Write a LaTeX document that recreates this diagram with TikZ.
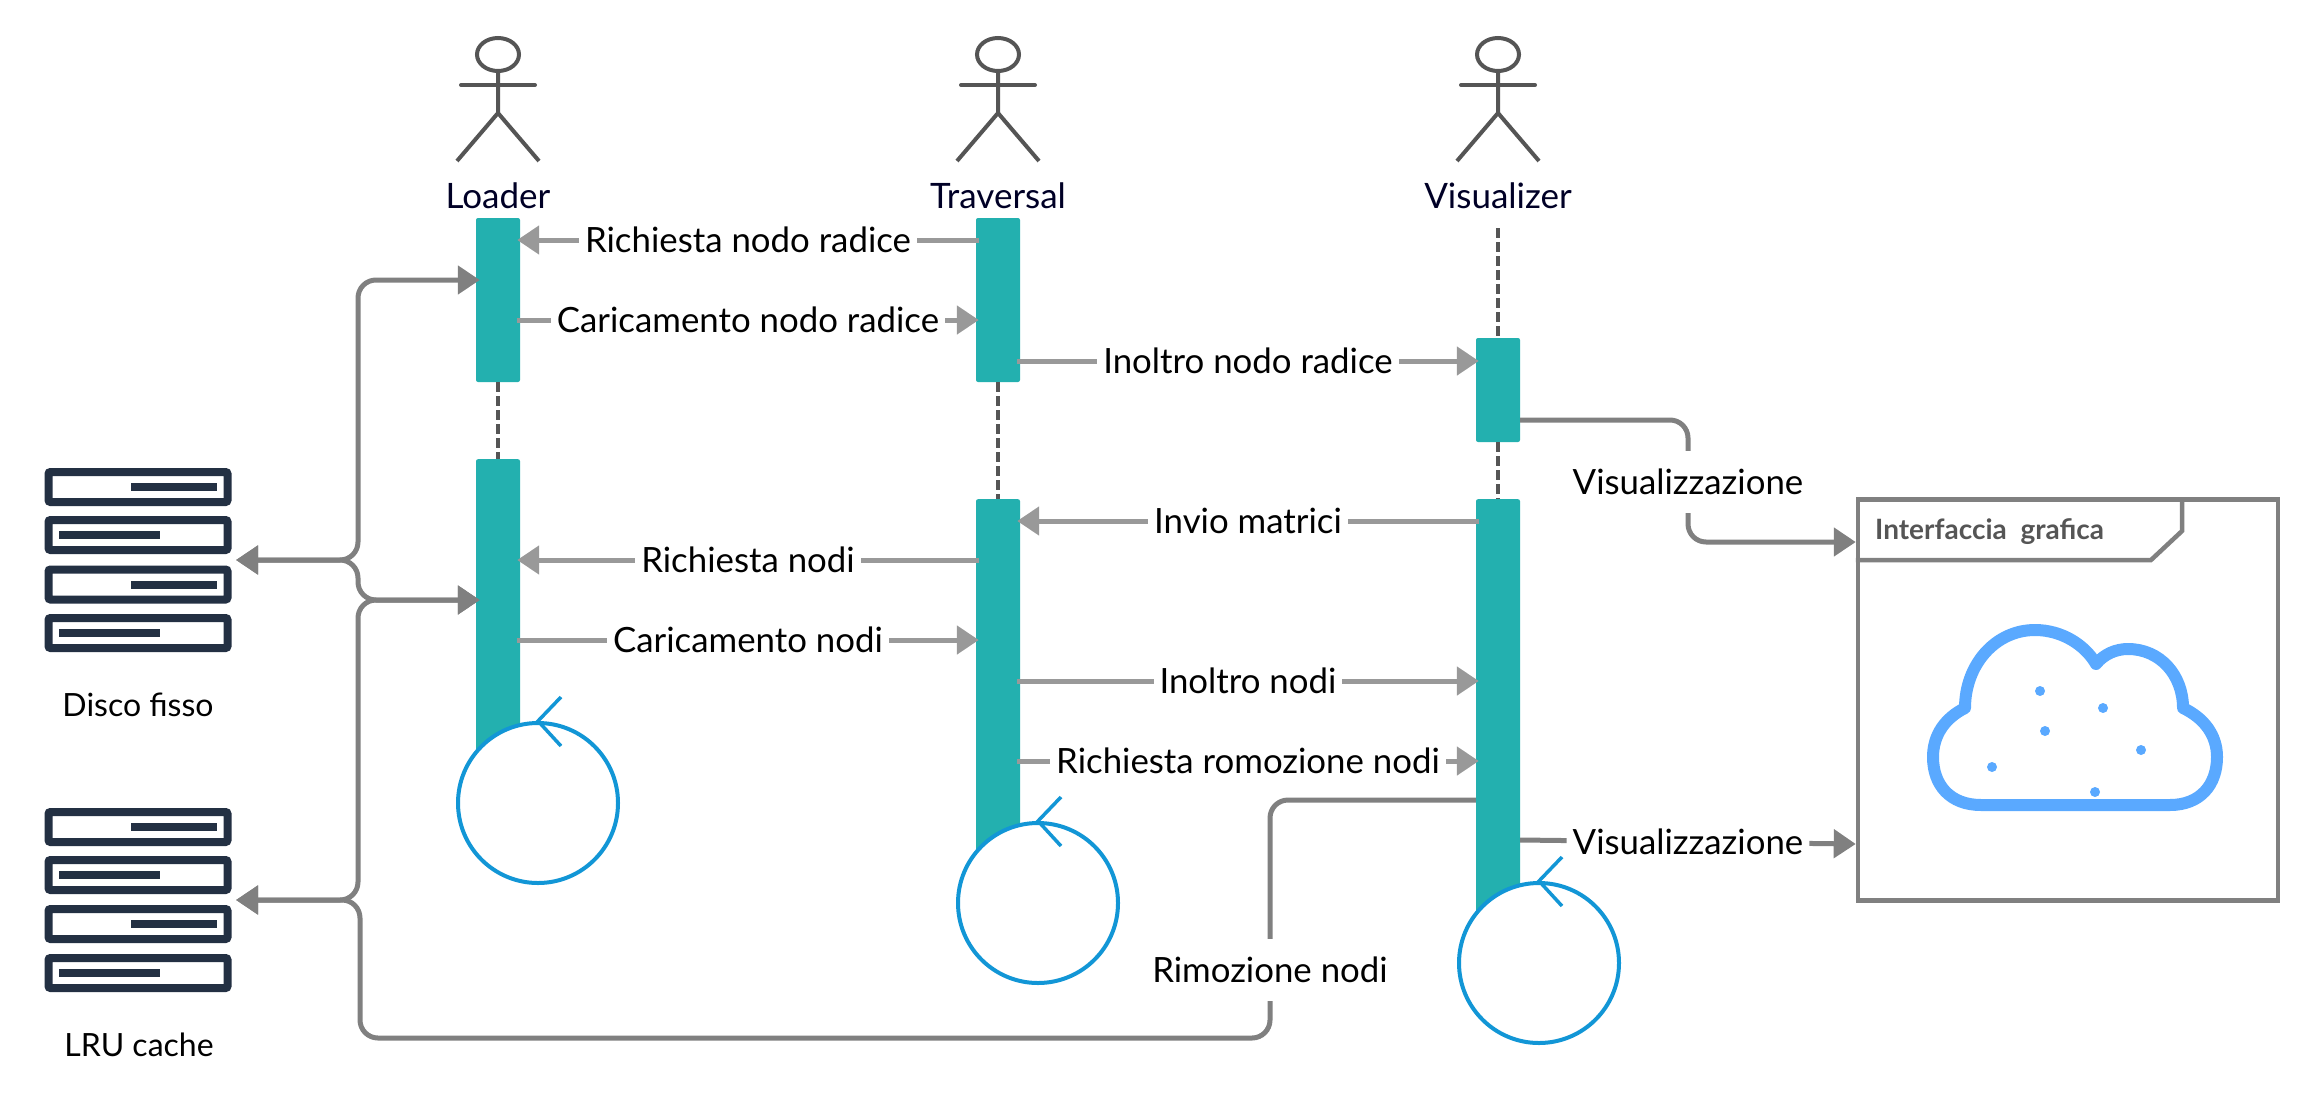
\documentclass[tikz,border=0pt]{standalone}
\usepackage{fontspec}
\setmainfont{Lato}
\usetikzlibrary{arrows.meta}
\definecolor{barteal}{HTML}{23B0AF}
\definecolor{loopblue}{HTML}{1296D6}
\definecolor{cloudblue}{HTML}{5AA9FF}
\definecolor{servernavy}{HTML}{233043}
\definecolor{actorgrey}{HTML}{555555}
\definecolor{linkgrey}{HTML}{808080}
\definecolor{msggrey}{HTML}{999999}
\tikzset{
  lifebar/.style={fill=barteal,rounded corners=2pt,minimum width=44pt,inner sep=0pt},
  lifeline/.style={draw=actorgrey,line width=3.5pt,dash pattern=on 10pt off 4pt},
  actorline/.style={draw=actorgrey,line width=4pt},
  actorlabel/.style={font=\fontsize{35}{38}\selectfont,text=black!85!blue},
  msg/.style={draw=msggrey,line width=5pt,-{Triangle[length=22pt,width=28pt]},shorten >=-3pt,shorten <=-3pt},
  link/.style={draw=linkgrey,line width=5pt,rounded corners=18pt,-{Triangle[length=22pt,width=28pt]}},
  linktwo/.style={draw=linkgrey,line width=5pt,rounded corners=18pt,shorten >=-4pt,{Triangle[length=22pt,width=28pt]}-{Triangle[length=22pt,width=28pt]}},
  msglabel/.style={fill=white,inner xsep=6pt,inner ysep=0pt,minimum height=62pt,font=\fontsize{34.8}{37}\selectfont},
  loopnode/.style={circle,draw=loopblue,fill=white,line width=4pt,minimum size=160pt,inner sep=0pt},
  looptick/.style={draw=loopblue,line width=3.5pt},
  serverrow/.style={draw=servernavy,line width=8pt,rounded corners=2pt,minimum width=179pt,minimum height=30pt,inner sep=0pt},
  serverled/.style={fill=servernavy,minimum height=8pt,inner sep=0pt},
  serverlabel/.style={font=\fontsize{32}{35}\selectfont},
  framebox/.style={draw=linkgrey,line width=4.5pt,minimum width=420pt,minimum height=401pt,inner sep=0pt},
  cloudline/.style={draw=cloudblue,line width=12pt,line join=round},
}
\begin{document}
\begin{tikzpicture}[x=1pt,y=-1pt]
\useasboundingbox (0,0) rectangle (2320,1106);
\foreach \actorname/\xc in {Loader/498,Traversal/998,Visualizer/1498} {
  \draw[actorline] (\xc,54.5) ellipse (21 and 16.5);
  \draw[actorline] (\xc,71) -- (\xc,113) -- (\xc-41,161);
  \draw[actorline] (\xc,113) -- (\xc+41,161);
  \draw[actorline,line cap=round] (\xc-37,85) -- (\xc+37,85);
  \node[actorlabel] (label\actorname) at (\xc,196) {\actorname};
}
\node[lifebar,minimum height=164pt] (load1) at (498,300) {};
\node[lifebar,minimum height=164pt] (trav1) at (998,300) {};
\node[lifebar,minimum height=104pt] (vis1) at (1498,390) {};
\node[lifebar,minimum height=342pt,anchor=north] (load2) at (498,459) {};
\node[lifebar,minimum height=400pt,anchor=north] (trav2) at (998,499) {};
\node[lifebar,minimum height=460pt,anchor=north] (vis2) at (1498,499) {};
\coordinate (visstart) at (1498,228);
\draw[lifeline] (load1.south) -- (load2.north);
\draw[lifeline] (trav1.south) -- (trav2.north);
\draw[lifeline] (visstart) -- (vis1.north);
\draw[lifeline] (vis1.south) -- (vis2.north);
\draw[msg] (trav1.west |- 0,240) -- node[msglabel] (msgrichradice) {Richiesta nodo radice} (load1.east |- 0,240);
\draw[msg] (load1.east |- 0,320) -- node[msglabel] (msgcaricradice) {Caricamento nodo radice} (trav1.west |- 0,320);
\draw[msg] (trav1.east |- 0,361) -- node[msglabel] (msginoltroradice) {Inoltro nodo radice} (vis1.west |- 0,361);
\draw[msg] (vis2.west |- 0,521) -- node[msglabel] (msgmatrici) {Invio matrici} (trav2.east |- 0,521);
\draw[msg] (trav2.west |- 0,560) -- node[msglabel] (msgrichnodi) {Richiesta nodi} (load2.east |- 0,560);
\draw[msg] (load2.east |- 0,640) -- node[msglabel] (msgcaricnodi) {Caricamento nodi} (trav2.west |- 0,640);
\draw[msg] (trav2.east |- 0,681) -- node[msglabel] (msginoltronodi) {Inoltro nodi} (vis2.west |- 0,681);
\draw[msg] (trav2.east |- 0,761) -- node[msglabel] (msgromozione) {Richiesta romozione nodi} (vis2.west |- 0,761);
\foreach \rowname/\yc/\ledx/\ledw in {disco1/487/174/86,disco2/535/109.5/101,disco3/584.5/174/86,disco4/633/109.5/101,lru1/827/174/86,lru2/875/109.5/101,lru3/924/174/86,lru4/973/109.5/101} {
  \node[serverrow] (\rowname) at (138,\yc) {};
  \node[serverled,minimum width=\ledw pt] (\rowname led) at (\ledx,\yc) {};
}
\node[serverlabel] (labeldisco) at (138,705) {Disco fisso};
\node[serverlabel] (labellru) at (139,1045) {LRU cache};
\coordinate (discoport) at (236,560);
\coordinate (lruport) at (236,900);
\draw[linktwo] (discoport) -- (358,560) -- (358,280) -- (load1.west |- 0,280);
\draw[linktwo] (discoport) -- (358,560) -- (358,600) -- (load2.west |- 0,600);
\draw[linktwo] (lruport) -- (358,900) -- (358,600) -- (load2.west |- 0,600);
\node[framebox] (grafica) at (2068,700) {};
\draw[draw=linkgrey,line width=4.5pt] (2182,500) -- (2182,531) -- (2151,560) -- (grafica.west |- 0,560);
\node[anchor=west,inner sep=0pt,text=actorgrey,font=\bfseries\fontsize{28}{31}\selectfont] (labelgrafica) at (1875,532) {Interfaccia\ \ grafica};
\draw[link] (vis1.east |- 0,420) -- (1688,420) -- (1688,542) -- (grafica.west |- 0,542);
\node[msglabel] (msgvisual) at (1688,482) {Visualizzazione};
\draw[link] (vis2.east |- 0,840) -- node[msglabel] (msgvisualdue) {Visualizzazione} (grafica.west |- 0,844);
\draw[link] (vis2.west |- 0,800) -- (1270,800) -- (1270,1038) -- (360,1038) -- (360,900) -- (lruport);
\node[msglabel] (msgrimozione) at (1270,970) {Rimozione nodi};
\node[loopnode] (loopload) at (538,803) {};
\node[loopnode] (looptrav) at (1038,903) {};
\node[loopnode] (loopvis) at (1539,963) {};
\foreach \loopname in {loopload,looptrav,loopvis} {
  \draw[looptick] (\loopname.north) ++(23,-24) -- (\loopname.north) -- ++(23,25);
}
\draw[cloudline] (1981,805) -- (2170,805) .. controls (2200,805) and (2217,785) .. (2217,757)
  .. controls (2217,735) and (2204,718) .. (2183,708) .. controls (2183,675) and (2160,649) .. (2128,649)
  .. controls (2116,649) and (2104,654) .. (2096,664) .. controls (2085,645) and (2062,630) .. (2035,630)
  .. controls (1995,630) and (1965,665) .. (1965,708) .. controls (1945,718) and (1933,735) .. (1933,757)
  .. controls (1933,785) and (1950,805) .. (1981,805) -- cycle;
\foreach \xd/\yd in {2040/691,2103/708,2045/731,2141/750,1992/767,2095/792} {
  \fill[cloudblue] (\xd,\yd) circle (5);
}
\end{tikzpicture}
\end{document}
